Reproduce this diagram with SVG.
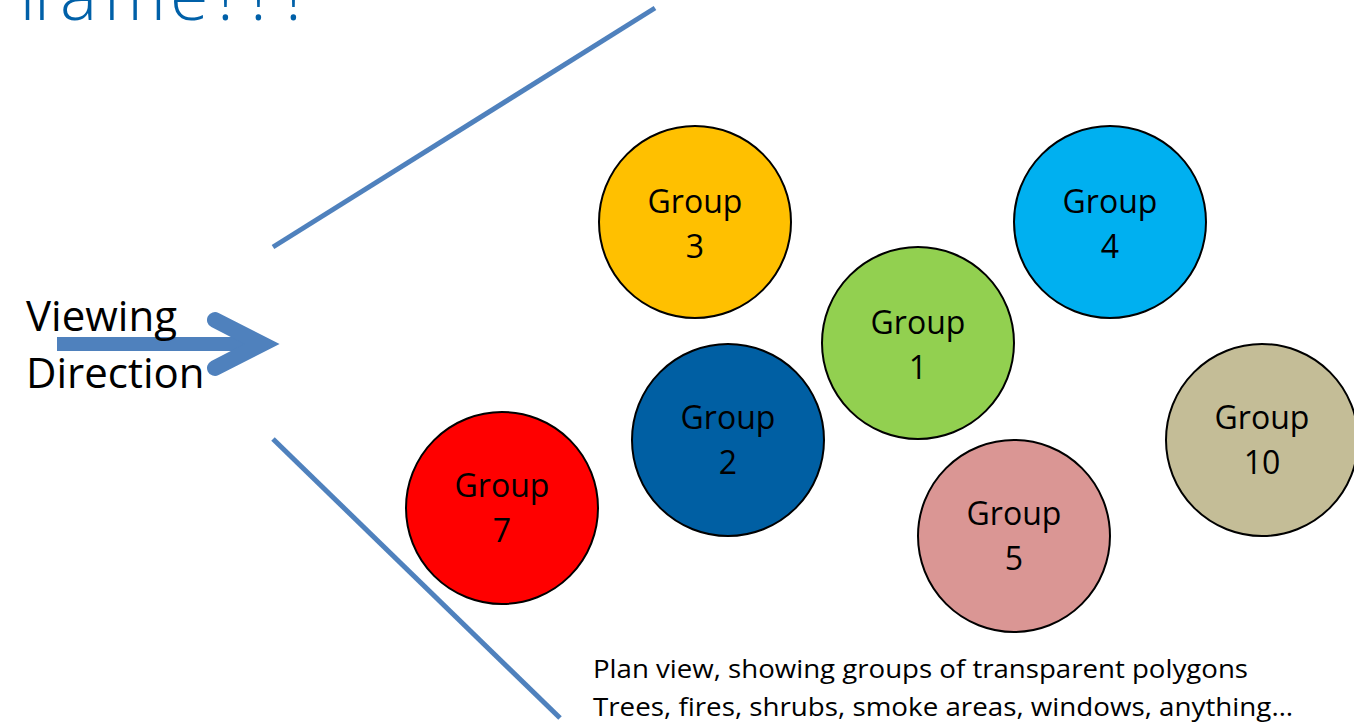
<svg xmlns="http://www.w3.org/2000/svg" width="1354" height="722" viewBox="0 0 1354 722">
<style>
.node circle{stroke:#000;stroke-width:2}
.lbl{font-family:"Open Sans","Liberation Sans",sans-serif;font-size:32px;fill:#000;text-anchor:middle}
.ray{stroke:#4F81BD;stroke-width:5;fill:none}
.txt{font-family:"Open Sans","Liberation Sans",sans-serif;fill:#000}
</style>
<rect width="1354" height="722" fill="#fff"/>
<text x="18 34 60 104 170 217 250 285" y="20" font-family="'Open Sans','Liberation Sans',sans-serif" font-weight="300" font-size="70" fill="#0060A8">frame!!!</text>
<g id="connectors">
<line class="ray" x1="273" y1="247" x2="655" y2="8"/>
<line class="ray" x1="273" y1="439" x2="560" y2="718"/>
<g id="viewing-arrow">
<line x1="57" y1="344" x2="250" y2="344" stroke="#4F81BD" stroke-width="14"/>
<polyline points="215,320 262,344 215,368" fill="none" stroke="#4F81BD" stroke-width="16" stroke-linecap="round" stroke-linejoin="miter"/>
</g>
</g>
<g id="viewing-label">
<text class="txt" x="26" y="331" font-size="42">Viewing</text>
<text class="txt" x="26" y="388" font-size="42">Direction</text>
</g>
<g id="group3" class="node"><circle cx="695" cy="222" r="96" fill="#FFC000"/><text class="lbl" x="695" y="213">Group</text><text class="lbl" x="695" y="258">3</text></g>
<g id="group4" class="node"><circle cx="1110" cy="222" r="96" fill="#00B0F0"/><text class="lbl" x="1110" y="213">Group</text><text class="lbl" x="1110" y="258">4</text></g>
<g id="group1" class="node"><circle cx="918" cy="343" r="96" fill="#92D050"/><text class="lbl" x="918" y="334">Group</text><text class="lbl" x="918" y="379">1</text></g>
<g id="group2" class="node"><circle cx="728" cy="440" r="96" fill="#005FA3"/><text class="lbl" x="728" y="429">Group</text><text class="lbl" x="728" y="474">2</text></g>
<g id="group7" class="node"><circle cx="502" cy="508" r="96" fill="#FF0000"/><text class="lbl" x="502" y="497">Group</text><text class="lbl" x="502" y="542">7</text></g>
<g id="group5" class="node"><circle cx="1014" cy="536" r="96" fill="#DA9694"/><text class="lbl" x="1014" y="525">Group</text><text class="lbl" x="1014" y="570">5</text></g>
<g id="group10" class="node"><circle cx="1262" cy="440" r="96" fill="#C4BD97"/><text class="lbl" x="1262" y="429">Group</text><text class="lbl" x="1262" y="474">10</text></g>
<g id="caption">
<text class="txt" x="593" y="678" font-size="26" textLength="655" lengthAdjust="spacingAndGlyphs">Plan view, showing groups of transparent polygons</text>
<text class="txt" x="593" y="716" font-size="26" textLength="700" lengthAdjust="spacingAndGlyphs">Trees, fires, shrubs, smoke areas, windows, anything…</text>
</g>
</svg>
